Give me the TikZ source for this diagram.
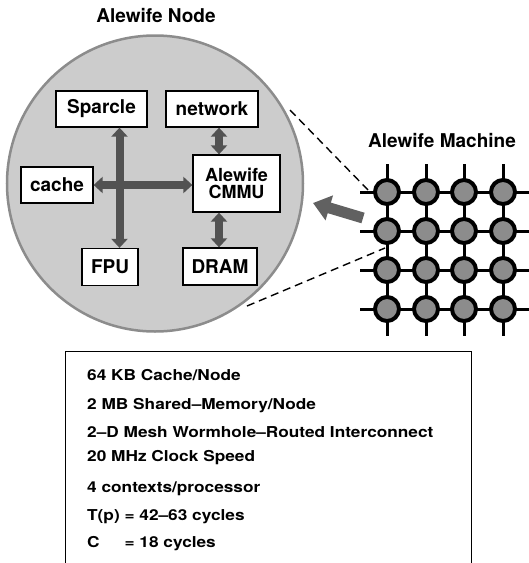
\documentclass[tikz,border=0pt]{standalone}
\usepackage{fontspec}
\usepackage{graphicx}
\setmainfont{TeX Gyre Heros}
\usetikzlibrary{arrows.meta}
\tikzset{
  lbl/.style={font=\fontsize{19}{21}\selectfont\bfseries},
  title/.style={font=\fontsize{19}{21}\selectfont\bfseries, anchor=base, inner sep=0},
  box/.style={draw, line width=1.3pt, fill=white, inner sep=0, minimum height=36pt, lbl},
  dblarrow/.style={line width=8pt, draw=black!68,
    {Triangle[width=16pt,length=9pt]}-{Triangle[width=16pt,length=9pt]}},
  bigarrow/.style={line width=11pt, draw=black!62, -{Triangle[width=25pt,length=17pt]}},
  meshline/.style={line width=3pt, draw=black},
  meshnode/.style={circle, draw=black, line width=4pt, fill=black!45, minimum size=24pt, inner sep=0},
  zoomline/.style={line width=1.4pt, dash pattern=on 8pt off 5pt},
  spec/.style={anchor=base west, inner sep=0, font=\fontsize{15}{17}\selectfont\bfseries},
}
\newcommand{\wide}[1]{\scalebox{1.15}[1]{#1}}
\begin{document}
\begin{tikzpicture}[x=1pt,y=-1pt]
\useasboundingbox (0,0) rectangle (529,563);

% titles
\node[title] (tnode) at (156,22.5) {Alewife Node};
\node[title] (tmach) at (442,147) {Alewife Machine};

% big node circle
\node[circle, minimum size=296pt, inner sep=0, draw=black!45, line width=2.5pt, fill=black!20] (node) at (155,183.5) {};

% boxes
\node[box, minimum width=91pt] (sparcle) at (101.5,109) {Sparcle};
\node[box, minimum width=92pt] (network) at (212,109) {network};
\node[box, minimum width=72pt] (cache) at (57,185) {cache};
\node[box, minimum width=87pt, minimum height=57pt, align=center,
      font=\fontsize{18}{17}\selectfont\bfseries] (cmmu) at (236.5,183.5) {Alewife\\CMMU};
\node[box, minimum width=56pt, minimum height=37pt] (fpu) at (110,267) {FPU};
\node[box, minimum width=74pt, minimum height=37pt] (dram) at (220,266.5) {DRAM};

% internal arrows
\coordinate (vx) at (119.5,0);
\coordinate (vx2) at (219,0);
\draw[dblarrow] (sparcle.south -| vx) -- (fpu.north -| vx);
\draw[dblarrow] (cache.east) -- (cache.east -| cmmu.west);
\draw[dblarrow] (network.south -| vx2) -- (cmmu.north -| vx2);
\draw[dblarrow] (cmmu.south -| vx2) -- (dram.north -| vx2);

% mesh lines
\foreach \y in {192,231,270,309} {
  \draw[meshline] (360,\y) -- (529,\y);
}
\foreach \x in {387,426,464,503} {
  \draw[meshline] (\x,164) -- (\x,336);
}
% mesh nodes
\foreach \x [count=\i] in {387,426,464,503} {
  \foreach \y [count=\j] in {192,231,270,309} {
    \node[meshnode] (m\j\i) at (\x,\y) {};
  }
}

% zoom lines
\coordinate (za) at (290,110);
\coordinate (zb) at (368,190);
\coordinate (zc) at (247,306);
\coordinate (zd) at (385,248);
\draw[zoomline] (za) -- (zb);
\draw[zoomline] (zc) -- (zd);

% big arrow
\coordinate (bt) at (363,218);
\coordinate (bh) at (313,203);
\draw[bigarrow] (bt) -- (bh);

% spec box
\node[draw, line width=1pt, anchor=north west, minimum width=406pt, minimum height=216pt, inner sep=0] (specs) at (65,351) {};
\node[spec] (s1) at (87,380) {\wide{64 KB Cache/Node}};
\node[spec] (s2) at (87,409) {\wide{2 MB Shared–Memory/Node}};
\node[spec] (s3) at (87,437) {\wide{2–D Mesh Wormhole–Routed Interconnect}};
\node[spec] (s4) at (87,461) {\wide{20 MHz Clock Speed}};
\node[spec] (s5) at (87,492) {\wide{4 contexts/processor}};
\node[spec] (s6) at (87,520) {\wide{T(p) = 42–63 cycles}};
\node[spec] (s7) at (87,547) {\wide{\rlap{C}\phantom{T(p)} = 18 cycles}};
\end{tikzpicture}
\end{document}
